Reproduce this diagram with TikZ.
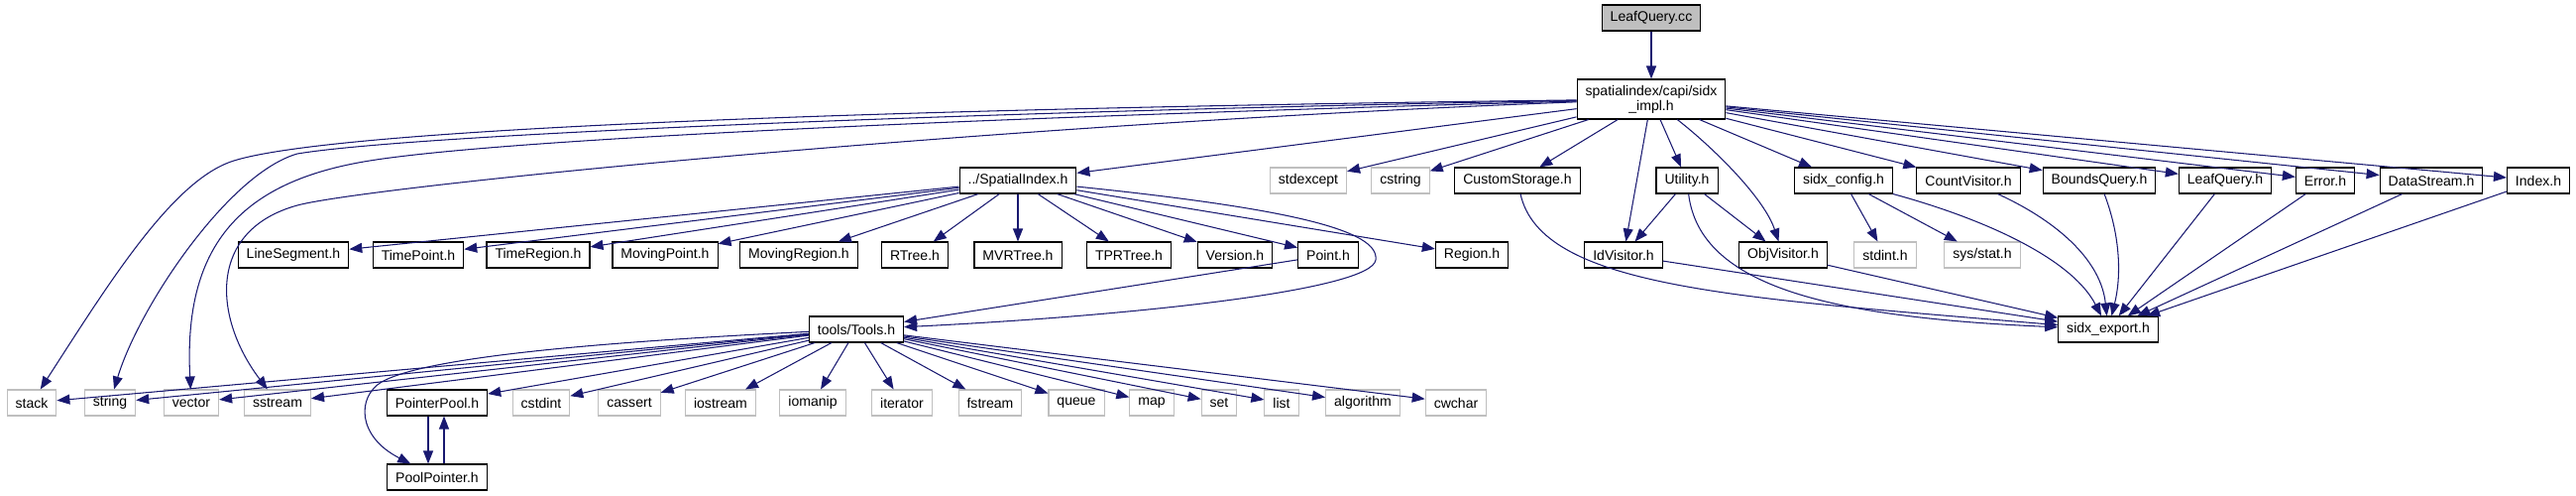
\documentclass[tikz,border=0pt]{standalone}
\usepackage{fontspec}
\setmainfont{Liberation Sans}
\usetikzlibrary{positioning, arrows.meta}
\definecolor{EdgeBlue}{HTML}{191970}
\definecolor{SysGray}{HTML}{BFBFBF}

\tikzset{
  file/.style={draw=black, line width=0.6pt, fill=white, inner xsep=0.17cm, inner ysep=0pt,
    minimum height=0.52cm, font=\fontsize{8}{8.6}\selectfont, align=center},
  sysfile/.style={file, draw=SysGray},
  rootfile/.style={file, fill=SysGray},
  incl/.style={draw=EdgeBlue, line width=0.6pt, -{Triangle[length=0.26cm, width=0.2cm]}}
}

\begin{document}
\begin{tikzpicture}[x=0.02cm, y=-0.02cm]
      \useasboundingbox (0,0) rectangle (2599,500);

      % --- Top ---
      \node[rootfile] (lq)   at (1666,18)  {LeafQuery.cc};
      \node[file, minimum height=0.8cm] (impl) at (1666,100) {spatialindex/capi/sidx\\\_impl.h};

      % --- Second row ---
      \node[file]    (si)        at (1027,182) {../SpatialIndex.h};
      \node[sysfile] (stdexcept) at (1320,182) {stdexcept};
      \node[sysfile] (cstring)   at (1413,182) {cstring};
      \node[file]    (cstor)     at (1531,182) {CustomStorage.h};
      \node[file]    (util)      at (1702,182) {Utility.h};
      \node[file]    (cfg)       at (1860,182) {sidx\_config.h};
      \node[file]    (cvis)      at (1986,182) {CountVisitor.h};
      \node[file]    (bq)        at (2118,182) {BoundsQuery.h};
      \node[file]    (lqh)       at (2245,182) {LeafQuery.h};
      \node[file]    (err)       at (2346,182) {Error.h};
      \node[file]    (ds)        at (2453,182) {DataStream.h};
      \node[file]    (idx)       at (2561,182) {Index.h};

      % --- Third row ---
      \node[file]    (lineseg)   at (296,257)  {LineSegment.h};
      \node[file]    (timept)    at (422,257)  {TimePoint.h};
      \node[file]    (timereg)   at (543,257)  {TimeRegion.h};
      \node[file]    (movpt)     at (671,257)  {MovingPoint.h};
      \node[file]    (movreg)    at (806,257)  {MovingRegion.h};
      \node[file]    (rtree)     at (923,257)  {RTree.h};
      \node[file]    (mvrtree)   at (1027,257) {MVRTree.h};
      \node[file]    (tprtree)   at (1139,257) {TPRTree.h};
      \node[file]    (version)   at (1246,257) {Version.h};
      \node[file]    (point)     at (1340,257) {Point.h};
      \node[file]    (region)    at (1485,257) {Region.h};
      \node[file]    (idvis)     at (1638,257) {IdVisitor.h};
      \node[file]    (objvis)    at (1799,257) {ObjVisitor.h};
      \node[sysfile] (stdint)    at (1902,257) {stdint.h};
      \node[sysfile] (sysstat)   at (2000,257) {sys/stat.h};

      % --- Fourth row ---
      \node[file]    (tools)     at (864,332)  {tools/Tools.h};
      \node[file]    (export)    at (2127,332) {sidx\_export.h};

      % --- Fifth row ---
      \node[sysfile] (stack)     at (32,406)   {stack};
      \node[sysfile] (string)    at (111,406)  {string};
      \node[sysfile] (vector)    at (193,406)  {vector};
      \node[sysfile] (sstream)   at (280,406)  {sstream};
      \node[file]    (ptrpool)   at (441,406)  {PointerPool.h};
      \node[sysfile] (cstdint)   at (546,406)  {cstdint};
      \node[sysfile] (cassert)   at (635,406)  {cassert};
      \node[sysfile] (iostream)  at (727,406)  {iostream};
      \node[sysfile] (iomanip)   at (820,406)  {iomanip};
      \node[sysfile] (iterator)  at (910,406)  {iterator};
      \node[sysfile] (fstream)   at (999,406)  {fstream};
      \node[sysfile] (queue)     at (1086,406) {queue};
      \node[sysfile] (map)       at (1162,406) {map};
      \node[sysfile] (set)       at (1230,406) {set};
      \node[sysfile] (list)      at (1293,406) {list};
      \node[sysfile] (algorithm) at (1375,406) {algorithm};
      \node[sysfile] (cwchar)    at (1469,406) {cwchar};

      % --- Bottom ---
      \node[file]    (poolp)     at (441,481)  {PoolPointer.h};

      % --- Includes of LeafQuery.cc and sidx_impl.h ---
      \draw[incl] (lq) -- (impl);
      \draw[incl] (impl) -- (si);
      \draw[incl] (impl) -- (stdexcept);
      \draw[incl] (impl) -- (cstring);
      \draw[incl] (impl) -- (cstor);
      \draw[incl] (impl) -- (util);
      \draw[incl] (impl) -- (idvis);
      \draw[incl] (impl) .. controls (1730,150) and (1780,200) .. (objvis);
      \draw[incl] (impl) -- (cfg);
      \draw[incl] (impl) -- (cvis);
      \draw[incl] (impl) -- (bq);
      \draw[incl] (impl) -- (lqh);
      \draw[incl] (impl) -- (err);
      \draw[incl] (impl) -- (ds);
      \draw[incl] (impl) -- (idx);
      % long curves to the left
      \draw[incl] (impl) .. controls (1000,108) and (340,126) .. (233,163)
                         .. controls (173,184) and (110,285) .. (stack);
      \draw[incl] (impl) .. controls (1000,112) and (420,135) .. (300,155)
                         .. controls (230,175) and (140,310) .. (string);
      \draw[incl] (impl) .. controls (1000,118) and (500,140) .. (367,163)
                         .. controls (240,185) and (185,250) .. (vector);
      \draw[incl] (impl) .. controls (1000,125) and (370,188) .. (300,207)
                         .. controls (209,232) and (215,320) .. (sstream);

      % --- Includes of ../SpatialIndex.h ---
      \draw[incl] (si) -- (lineseg);
      \draw[incl] (si) -- (timept);
      \draw[incl] (si) -- (timereg);
      \draw[incl] (si) -- (movpt);
      \draw[incl] (si) -- (movreg);
      \draw[incl] (si) -- (rtree);
      \draw[incl] (si) -- (mvrtree);
      \draw[incl] (si) -- (tprtree);
      \draw[incl] (si) -- (version);
      \draw[incl] (si) -- (point);
      \draw[incl] (si) -- (region);
      \draw[incl] (si) .. controls (1300,210) and (1392,232) .. (1388,262)
                       .. controls (1384,292) and (1150,318) .. (tools);
      \draw[incl] (point) -- (tools);

      % --- Includes of the second row ---
      \draw[incl] (cstor) .. controls (1555,290) and (1750,300) .. (export);
      \draw[incl] (util) -- (idvis);
      \draw[incl] (util) -- (objvis);
      \draw[incl] (util) .. controls (1715,290) and (1850,320) .. (export);
      \draw[incl] (cfg) -- (stdint);
      \draw[incl] (cfg) -- (sysstat);
      \draw[incl] (cfg) .. controls (2000,220) and (2090,260) .. (export);
      \draw[incl] (cvis) .. controls (2080,225) and (2120,265) .. (export);
      \draw[incl] (bq) .. controls (2140,240) and (2140,280) .. (export);
      \draw[incl] (lqh) -- (export);
      \draw[incl] (err) -- (export);
      \draw[incl] (ds) -- (export);
      \draw[incl] (idx) -- (export);
      \draw[incl] (idvis) -- (export);
      \draw[incl] (objvis) -- (export);

      % --- Includes of tools/Tools.h ---
      \draw[incl] (tools) -- (stack);
      \draw[incl] (tools) -- (string);
      \draw[incl] (tools) -- (vector);
      \draw[incl] (tools) -- (sstream);
      \draw[incl] (tools) -- (ptrpool);
      \draw[incl] (tools) .. controls (600,345) and (430,360) .. (385,385)
                          .. controls (360,400) and (360,440) .. (poolp);
      \draw[incl] (tools) -- (cstdint);
      \draw[incl] (tools) -- (cassert);
      \draw[incl] (tools) -- (iostream);
      \draw[incl] (tools) -- (iomanip);
      \draw[incl] (tools) -- (iterator);
      \draw[incl] (tools) -- (fstream);
      \draw[incl] (tools) -- (queue);
      \draw[incl] (tools) -- (map);
      \draw[incl] (tools) -- (set);
      \draw[incl] (tools) -- (list);
      \draw[incl] (tools) -- (algorithm);
      \draw[incl] (tools) -- (cwchar);

      % --- PointerPool.h and PoolPointer.h include each other ---
      \draw[incl] ([xshift=-0.18cm]ptrpool.south) -- ([xshift=-0.18cm]poolp.north);
      \draw[incl] ([xshift=0.14cm]poolp.north) -- ([xshift=0.14cm]ptrpool.south);
  \end{tikzpicture}
\end{document}
